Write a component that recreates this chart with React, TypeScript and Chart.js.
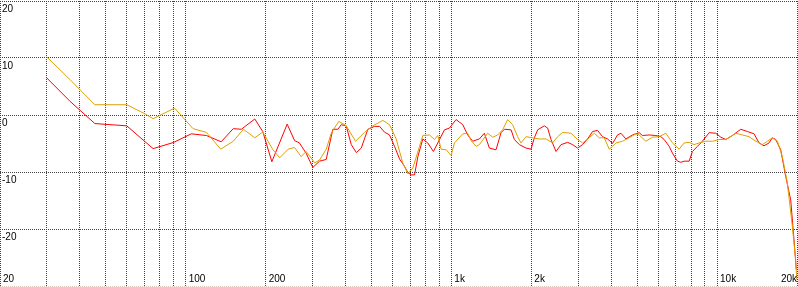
import React, { useEffect, useRef } from "react";
import { Chart, registerables } from "chart.js";

Chart.register(...registerables);

// Frequency (Hz) / level (dB)
const redFreq = [30, 36.7, 45.5, 60, 75.4, 90.2, 105, 119.7, 136, 151, 162, 182, 195, 211, 241, 257, 268, 284, 301, 319, 338, 358, 374, 385, 402, 420, 439, 458, 485, 514, 537, 560, 585, 611, 638, 666, 686, 706, 727, 748, 781, 815, 856, 889, 942, 983, 1042, 1104, 1152, 1203, 1275, 1331, 1390, 1473, 1538, 1583, 1678, 1726, 1803, 1910, 1995, 2053, 2113, 2238, 2304, 2372, 2478, 2587, 2739, 2860, 2987, 3119, 3257, 3401, 3551, 3708, 3872, 4043, 4222, 4348, 4540, 4808, 5093, 5240, 5554, 5885, 6146, 6325, 6605, 6797, 7096, 7310, 7521, 7852, 8081, 8438, 8811, 9337, 9895, 10333, 10790, 11425, 12286, 13009, 13783, 14392, 15030, 15695, 16150, 16634, 17370, 18140, 18938, 19487, 19880];
const redDb = [6.5, 2.4, -1.5, -1.9, -5.9, -4.8, -3.3, -3.6, -4.7, -2.4, -2.5, -0.7, -2.9, -8.2, -1.6, -4.5, -4.9, -6.7, -9.2, -8.1, -7.8, -2.5, -2.5, -1.7, -1.9, -5.2, -6.6, -5.8, -2.5, -2.0, -2.0, -3.0, -3.5, -5.5, -7.7, -9.0, -10.1, -10.5, -10.5, -7.3, -4.2, -4.9, -6.4, -4.9, -2.6, -2.3, -0.8, -1.7, -3.5, -4.6, -4.2, -3.2, -5.8, -6.1, -3.1, -2.5, -2.6, -4.3, -5.2, -5.8, -6.0, -4.0, -2.6, -1.9, -2.3, -4.3, -6.4, -5.2, -4.8, -5.2, -5.8, -5.2, -4.2, -2.9, -2.7, -3.8, -4.2, -5.0, -3.5, -3.2, -4.2, -3.5, -3.1, -3.6, -3.5, -3.6, -3.8, -4.3, -5.5, -6.7, -8.1, -8.3, -8.1, -8.1, -6.4, -5.5, -4.6, -3.1, -3.2, -3.9, -4.3, -3.6, -2.5, -2.9, -3.3, -4.9, -5.4, -4.9, -4.0, -4.3, -6.1, -10.8, -14.9, -21.9, -27.1];

const orangeFreq = [30, 36.7, 45.5, 60, 70.3, 75.4, 90.8, 106.6, 119.7, 135.5, 151, 165, 182, 195, 213, 226, 243, 257, 272, 284, 306, 319, 338, 353, 377, 402, 436, 471, 506, 552, 585, 620, 656, 686, 716, 759, 781, 827, 864, 889, 915, 956, 998, 1027, 1104, 1152, 1187, 1239, 1275, 1370, 1431, 1494, 1560, 1629, 1701, 1776, 1829, 1910, 2023, 2143, 2272, 2404, 2512, 2623, 2820, 2987, 3119, 3304, 3451, 3603, 3763, 3929, 4043, 4164, 4408, 4671, 4949, 5093, 5399, 5717, 6057, 6417, 6797, 7202, 7521, 7852, 8200, 8563, 9074, 9608, 10181, 10790, 11767, 12458, 13198, 13988, 14810, 15468, 16150, 16867, 17612, 18390, 19202, 19776, 19950];
const orangeDb = [10.2, 6.2, 1.8, 1.8, 0.2, -0.65, 1.2, -2.4, -3.05, -6.0, -4.6, -2.5, -4.0, -3.0, -6.1, -7.5, -6.0, -5.7, -7.3, -6.4, -8.4, -7.9, -6.0, -3.2, -1.1, -1.9, -4.6, -3.05, -1.9, -0.95, -1.7, -4.2, -8.4, -10.3, -9.3, -5.5, -3.6, -3.5, -4.3, -3.6, -6.0, -6.1, -7.1, -4.9, -3.3, -3.2, -4.5, -5.5, -5.2, -3.2, -3.9, -3.5, -2.6, -0.8, -1.7, -3.8, -4.9, -3.8, -4.0, -4.2, -4.2, -4.9, -3.8, -3.05, -3.2, -4.3, -4.9, -4.0, -3.2, -4.0, -4.0, -6.0, -5.5, -4.9, -4.6, -4.0, -3.3, -3.5, -4.6, -3.9, -3.8, -3.2, -4.9, -6.0, -4.9, -4.8, -5.2, -4.9, -4.6, -4.6, -4.3, -4.3, -3.2, -3.5, -3.8, -4.6, -5.2, -4.6, -4.0, -4.6, -7.3, -11.9, -19.5, -25.4, -28.9];

const xGridValues = [20, 30, 40, 50, 60, 70, 80, 90, 100, 200, 300, 400, 500, 600, 700, 800, 900, 1000, 2000, 3000, 4000, 5000, 6000, 7000, 8000, 9000, 10000, 20000];
const xLabelValues = [20, 100, 200, 1000, 2000, 10000, 20000];
const xLabelTexts = ["20", "100", "200", "1k", "2k", "10k", "20k"];
const yGridValues = [-30, -20, -10, 0, 10, 20];
const yLabelValues = [20, 10, 0, -10, -20];
const yLabelTexts = ["20", "10", "0", "-10", "-20"];

const labelPlugin = {
  id: "insideLabels",
  afterDraw(chart: any) {
    const { ctx, scales, chartArea } = chart;
    ctx.save();
    ctx.fillStyle = "#000";
    ctx.font = "10px 'Liberation Sans', Arial, sans-serif";
    ctx.textBaseline = "alphabetic";
    ctx.textAlign = "left";
    yLabelValues.forEach((v, i) => {
      const py = scales.y.getPixelForValue(v);
      ctx.fillText(yLabelTexts[i], chartArea.left + 2, py + 10.5);
    });
    xLabelValues.forEach((v, i) => {
      const px = scales.x.getPixelForValue(v);
      const w = ctx.measureText(xLabelTexts[i]).width;
      const tx = Math.min(px + 3, chart.width - w - 1);
      ctx.fillText(xLabelTexts[i], tx, chartArea.bottom - 4);
    });
    ctx.restore();
  },
};

export default function App() {
  const ref = useRef<HTMLCanvasElement | null>(null);
  useEffect(() => {
    document.body.style.margin = "0";
    if (!ref.current) return;
    const gridColor = "#404040";
    const chart = new Chart(ref.current, {
      type: "line",
      data: {
        datasets: [
          {
            label: "orange",
            data: orangeFreq.map((f, i) => ({ x: f, y: orangeDb[i] })),
            borderColor: "rgb(222,160,0)",
            borderWidth: 1,
            pointRadius: 0,
            tension: 0,
            fill: false,
          },
          {
            label: "red",
            data: redFreq.map((f, i) => ({ x: f, y: redDb[i] })),
            borderColor: "#ff0000",
            borderWidth: 1,
            pointRadius: 0,
            tension: 0,
            fill: false,
          },
        ],
      },
      options: {
        animation: false,
        responsive: false,
        maintainAspectRatio: false,
        layout: { padding: { top: 1, bottom: 1, left: 0, right: 1 } },
        plugins: { legend: { display: false }, tooltip: { enabled: false } },
        scales: {
          x: {
            type: "logarithmic",
            min: 20,
            max: 20000,
            afterBuildTicks: (s: any) => {
              s.ticks = xGridValues.map((v) => ({ value: v }));
            },
            ticks: { display: false },
            grid: { color: gridColor, lineWidth: 1, drawTicks: false },
            border: { display: false, dash: [1, 1] },
          },
          y: {
            type: "linear",
            min: -30,
            max: 20,
            afterBuildTicks: (s: any) => {
              s.ticks = yGridValues.map((v) => ({ value: v }));
            },
            ticks: { display: false },
            grid: {
              color: (c: any) => (c.tick && c.tick.value === -30 ? "rgb(225,200,190)" : gridColor),
              lineWidth: 1,
              drawTicks: false,
            },
            border: { display: false, dash: [1, 1] },
          },
        },
      },
      plugins: [labelPlugin],
    });
    return () => chart.destroy();
  }, []);
  return (
    <div style={{ width: 798, height: 287 }}>
      <canvas ref={ref} width={798} height={287} style={{ display: "block" }} />
    </div>
  );
}
